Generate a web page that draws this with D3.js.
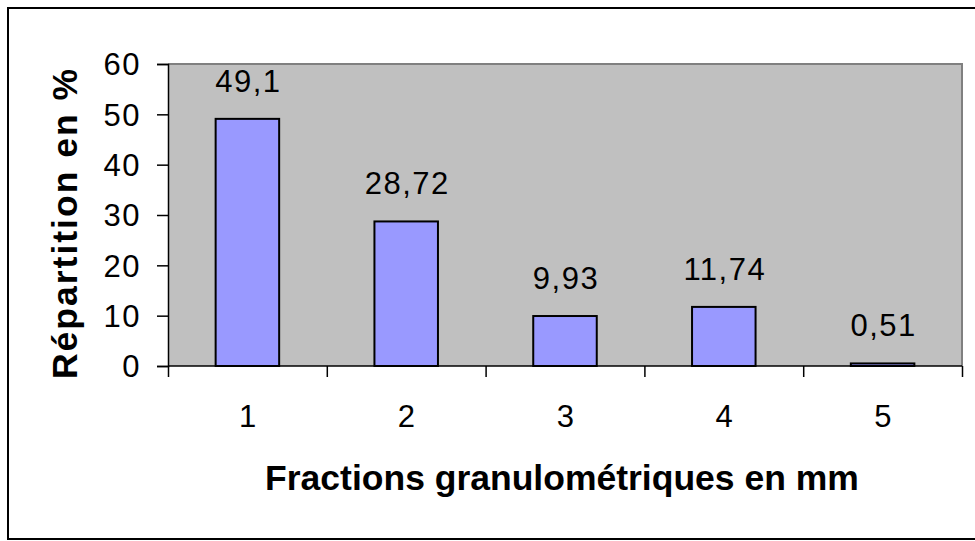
<!DOCTYPE html>
<meta charset="utf-8">
<head>
  <meta charset="utf-8">
  <title>Fractions granulometriques</title>
  <script src="https://d3js.org/d3.v7.min.js"></script>
</head>
<style>
body {margin:0; background:#fff;}
svg text {font-family: Arial, "Liberation Sans", sans-serif; fill:#000;}
.num {font-size: 31px; letter-spacing: 1.5px;}
.title {font-size: 35.5px; font-weight: bold;}
</style>
<body>
<script>

// data
var categories = ["1", "2", "3", "4", "5"];
var values = [49.1, 28.72, 9.93, 11.74, 0.51];
var valueLabels = ["49,1", "28,72", "9,93", "11,74", "0,51"];
var yTicks = [0, 10, 20, 30, 40, 50, 60];

var W = 975, H = 541;
// plot area
var margin = {top: 64, right: 13, bottom: 175, left: 168},
    width = W - margin.left - margin.right,
    height = H - margin.top - margin.bottom;

var root = d3.select("body").append("svg")
    .attr("width", W)
    .attr("height", H);

// outer frame (right edge is cut off in the picture)
root.append("rect")
    .attr("x", 8).attr("y", 8)
    .attr("width", W + 10).attr("height", 531)
    .attr("fill", "#fff")
    .attr("stroke", "#000")
    .attr("stroke-width", 2);

var svg = root.append("g")
    .attr("transform", "translate(" + margin.left + "," + margin.top + ")");

var x = d3.scaleBand()
    .domain(categories)
    .range([0, width])
    .paddingInner(0.6)
    .paddingOuter(0.3);

var xb = d3.scaleLinear().domain([0, categories.length]).range([0, width]);

var y = d3.scaleLinear()
    .domain([0, 60])
    .range([height, 0]);

// grey plot background
svg.append("rect")
    .attr("width", width)
    .attr("height", height)
    .attr("fill", "#c0c0c0");

// top and right border in dark grey
svg.append("path")
    .attr("d", "M0,0H" + width + "V" + height)
    .attr("fill", "none")
    .attr("stroke", "#808080")
    .attr("stroke-width", 2);

// bars
svg.selectAll(".bar")
    .data(values)
  .enter().append("rect")
    .attr("class", "bar")
    .attr("x", function(d, i) { return x(categories[i]); })
    .attr("y", function(d) { return y(d); })
    .attr("width", x.bandwidth())
    .attr("height", function(d) { return height - y(d); })
    .attr("fill", "#9999ff")
    .attr("stroke", "#000")
    .attr("stroke-width", 2);

// value labels
svg.selectAll(".val")
    .data(values)
  .enter().append("text")
    .attr("class", "num")
    .attr("x", function(d, i) { return x(categories[i]) + x.bandwidth() / 2 + 1; })
    .attr("y", function(d) { return y(d) - 27; })
    .attr("text-anchor", "middle")
    .text(function(d, i) { return valueLabels[i]; });

// y axis
var yAxis = svg.append("g")
    .call(d3.axisLeft(y).tickValues(yTicks).tickSize(11).tickPadding(16));
yAxis.select(".domain").attr("stroke", "#000").attr("stroke-width", 1.5);
yAxis.selectAll(".tick line").attr("stroke", "#000").attr("stroke-width", 1.5);
yAxis.selectAll("text").attr("class", "num").attr("dy", "0.35em").attr("fill", "#000");

// x axis: ticks at category boundaries, labels at centres
var xAxis = svg.append("g")
    .attr("transform", "translate(0," + height + ")")
    .call(d3.axisBottom(xb).ticks(categories.length).tickSize(11).tickFormat(""));
xAxis.select(".domain").attr("d", "M0,0H" + width).attr("stroke", "#000").attr("stroke-width", 1.5);
xAxis.selectAll(".tick line").attr("stroke", "#000").attr("stroke-width", 1.5);

svg.selectAll(".xlab")
    .data(categories)
  .enter().append("text")
    .attr("class", "num")
    .attr("x", function(d) { return x(d) + x.bandwidth() / 2 + 1; })
    .attr("y", height + 61)
    .attr("text-anchor", "middle")
    .text(function(d) { return d; });

// axis titles
svg.append("text")
    .attr("class", "title")
    .attr("x", width / 2 - 3)
    .attr("y", height + 124)
    .attr("text-anchor", "middle")
    .text("Fractions granulométriques en mm");

svg.append("text")
    .attr("class", "title")
    .attr("transform", "translate(" + (77 - margin.left) + "," + (223 - margin.top) + ") rotate(-90)")
    .attr("text-anchor", "middle")
    .style("letter-spacing", "2px")
    .text("Répartition en %");

</script>
</body>
